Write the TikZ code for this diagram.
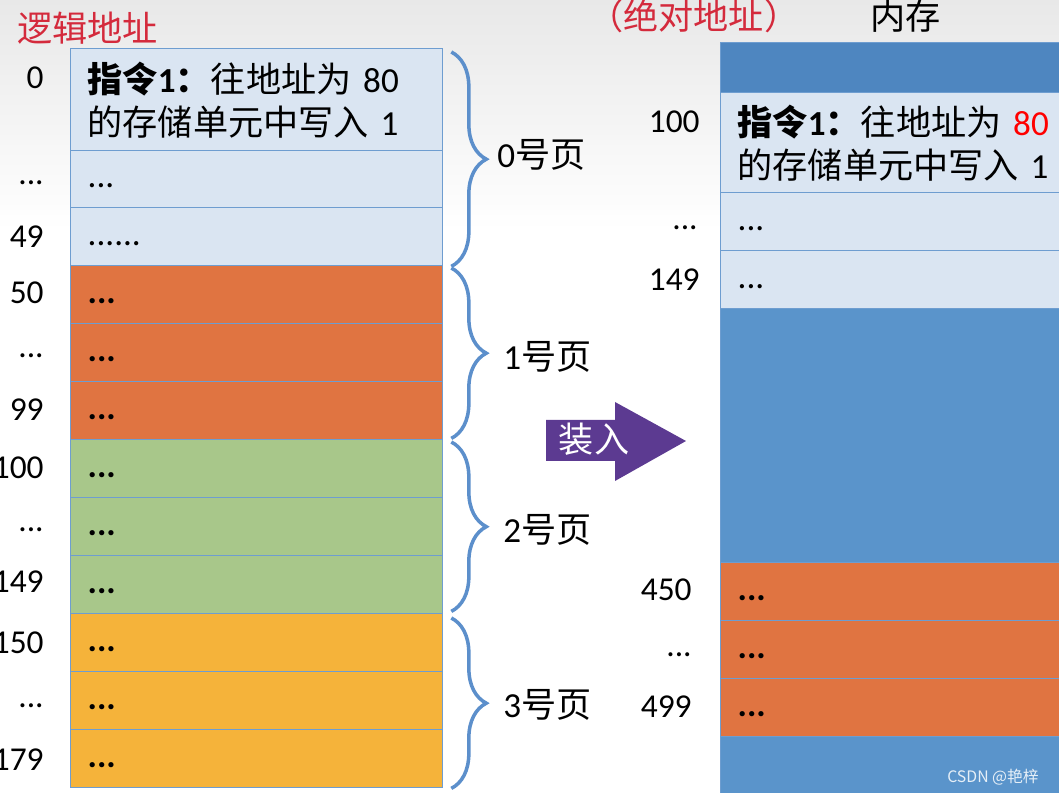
\documentclass[tikz,border=0pt]{standalone}
\usepackage{fontspec}
\setmainfont{Carlito}
\newfontfamily\cjk{Noto Sans CJK SC}
\usetikzlibrary{positioning,decorations.pathreplacing}

\definecolor{cellblue}{HTML}{DAE5F2}
\definecolor{cellorange}{HTML}{E07441}
\definecolor{cellgreen}{HTML}{A8C78A}
\definecolor{cellyellow}{HTML}{F5B33A}
\definecolor{memblue}{HTML}{5A94CB}
\definecolor{memtop}{HTML}{4E86C0}
\definecolor{edgeblue}{HTML}{6E9DD0}
\definecolor{bracecol}{HTML}{5C8FCB}
\definecolor{loadpurple}{HTML}{5C3A91}
\definecolor{titlered}{HTML}{D42A3C}

\newcommand\cellfont{\fontsize{20}{24.5}\selectfont}
\newcommand\addrfont{\fontsize{19}{22}\selectfont}

\tikzset{
  cell/.style={draw=edgeblue, line width=0.8pt, anchor=north west, minimum width=7.44cm,
    text width=6.76cm, align=left, inner xsep=0.34cm, inner ysep=0pt, font=\cellfont},
  addr/.style={anchor=east, font=\addrfont, inner sep=0pt},
  pagebrace/.style={draw=bracecol, line width=2pt, decorate,
    decoration={brace, amplitude=0.7cm}},
  pagelbl/.style={anchor=west, font=\fontsize{20}{22}\selectfont, inner sep=0pt},
  title/.style={font=\fontsize{20}{22}\selectfont\cjk, inner sep=0pt},
}

\begin{document}
\begin{tikzpicture}[x=0.02cm, y=-0.02cm]
  \useasboundingbox (0,0) rectangle (1059,793);
  \clip (0,0) rectangle (1059,793);
  \shade[top color=black!9, bottom color=white] (0,0) rectangle (1059,230);

  % Titles
  \node[title, text=titlered, anchor=west] (logtitle) at (17,28) {逻辑地址};
  \node[title, text=titlered, anchor=west] (abstitle) at (588,16) {（绝对地址）};
  \node[title, anchor=west] (memtitle) at (870,16) {内存};

  % Logical address space
  \node[cell, fill=cellblue, minimum height=2.04cm] (lc0) at (70,48)
    {\textbf{\cjk 指令}\textbf{1}{\cjk\textbf{：}往地址为} 80\\{\cjk 的存储单元中写入} 1};
  \node[cell, fill=cellblue, minimum height=1.14cm] (lc1) at (70,150) {\strut ...};
  \node[cell, fill=cellblue, minimum height=1.16cm] (lc2) at (70,207) {\strut ......};
  \foreach \i/\y/\col in {3/265/cellorange, 4/323/cellorange, 5/381/cellorange,
                          6/439/cellgreen, 7/497/cellgreen, 8/555/cellgreen,
                          9/613/cellyellow, 10/671/cellyellow, 11/729/cellyellow}
    \node[cell, fill=\col, minimum height=1.16cm] (lc\i) at (70,\y) {\strut\textbf{...}};

  % Logical addresses
  \node[addr] (la0) at (44,78) {0};
  \node[addr] (la1) at (44,183) {...};
  \node[addr] (la2) at (44,237) {49};
  \node[addr] (la3) at (44,293) {50};
  \node[addr] (la4) at (44,356) {...};
  \node[addr] (la5) at (44,410) {99};
  \node[addr] (la6) at (44,468) {100};
  \node[addr] (la7) at (44,530) {...};
  \node[addr] (la8) at (44,582) {149};
  \node[addr] (la9) at (44,643) {150};
  \node[addr] (la10) at (44,706) {...};
  \node[addr] (la11) at (44,760) {179};

  % Pages
  \draw[pagebrace] ([xshift=0.16cm, yshift=-0.08cm]lc0.north east) -- ([xshift=0.16cm]lc2.south east);
  \draw[pagebrace] ([xshift=0.16cm, yshift=-0.06cm]lc3.north east) -- ([xshift=0.16cm, yshift=0.04cm]lc5.south east);
  \draw[pagebrace] ([xshift=0.16cm, yshift=-0.06cm]lc6.north east) -- ([xshift=0.16cm, yshift=0.06cm]lc8.south east);
  \draw[pagebrace] ([xshift=0.16cm, yshift=-0.1cm]lc9.north east) -- ([xshift=0.16cm]lc11.south east);
  \node[pagelbl] (pg0) at (497,155) {0{\cjk 号页}};
  \node[pagelbl] (pg1) at (503,357) {1{\cjk 号页}};
  \node[pagelbl] (pg2) at (503,530) {2{\cjk 号页}};
  \node[pagelbl] (pg3) at (503,705) {3{\cjk 号页}};

  % Load arrow
  \fill[loadpurple] (546,420) -- (615,420) -- (615,402) -- (686,441) -- (615,481)
    -- (615,461) -- (546,461) -- cycle;
  \node[title, text=white] (load) at (594,439) {装入};

  % Main memory
  \node[cell, fill=memtop, minimum height=1cm] (mtop) at (720,42) {};
  \node[cell, fill=cellblue, minimum height=2cm] (mc0) at (720,92)
    {\textbf{\cjk 指令}\textbf{1}{\cjk\textbf{：}往地址为} \textcolor{red}{80}\\{\cjk 的存储单元中写入} 1};
  \node[cell, fill=cellblue, minimum height=1.16cm] (mc1) at (720,192) {\strut ...};
  \node[cell, fill=cellblue, minimum height=1.16cm] (mc2) at (720,250) {\strut ...};
  \node[cell, fill=memblue, minimum height=5.08cm] (mfree) at (720,308) {};
  \foreach \i/\y in {3/562, 4/620, 5/678}
    \node[cell, fill=cellorange, minimum height=1.16cm] (mc\i) at (720,\y) {\strut\textbf{...}};
  \node[cell, fill=memblue, minimum height=1.3cm] (mrest) at (720,736) {};

  % Physical addresses
  \node[addr] (pa0) at (700,122) {100};
  \node[addr] (pa1) at (698,228) {...};
  \node[addr] (pa2) at (700,280) {149};
  \node[addr] (pa3) at (692,590) {450};
  \node[addr] (pa4) at (692,655) {...};
  \node[addr] (pa5) at (692,707) {499};

  \node[anchor=east, text=white!85!memblue, font=\fontsize{9}{10}\selectfont\cjk] (mark) at (1045,777) {CSDN @艳梓};
\end{tikzpicture}
\end{document}
